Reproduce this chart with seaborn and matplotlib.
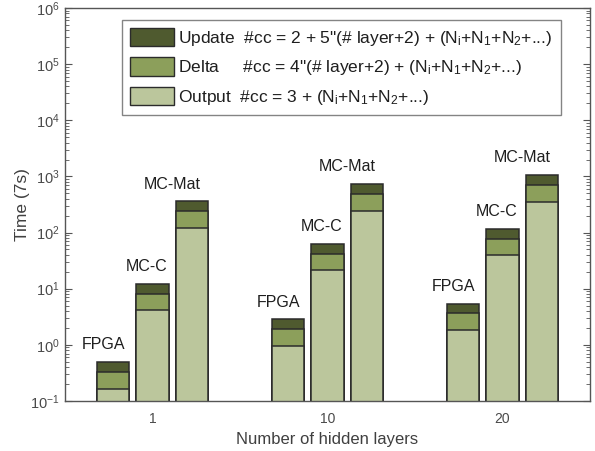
import matplotlib
matplotlib.use("Agg")
import matplotlib.pyplot as plt
from matplotlib.patches import Patch
from matplotlib.ticker import LogLocator, NullFormatter
import numpy as np
import pandas as pd
import seaborn as sns

# Number of hidden layers (x groups) and implementations (bars in each group)
layers = ["1", "10", "20"]
systems = ["FPGA", "MC-C", "MC-Mat"]

# Time per phase, one row per layer group, one column per system
output_t = [[0.166, 4.13, 119.0],
            [0.955, 21.3, 245.0],
            [1.82, 39.4, 351.0]]
delta_t = [[0.167, 4.02, 120.0],
           [0.935, 20.8, 248.0],
           [1.83, 38.4, 353.0]]
update_t = [[0.167, 4.15, 122.0],
            [0.96, 21.3, 250.0],
            [1.76, 39.2, 357.0]]

phase_names = ["Update", "Delta", "Output"]
phase_formulas = [
    r'#cc = 2 + 5"(# layer+2) + (N$_\mathregular{i}$+N$_\mathregular{1}$+N$_\mathregular{2}$+...)',
    r'#cc = 4"(# layer+2) + (N$_\mathregular{i}$+N$_\mathregular{1}$+N$_\mathregular{2}$+...)',
    r'#cc = 3 + (N$_\mathregular{i}$+N$_\mathregular{1}$+N$_\mathregular{2}$+...)',
]
phase_colors = {"Update": "#4f5a2f", "Delta": "#8c9f5b", "Output": "#bbc69c"}

sns.set_theme(style="white")
plt.rcParams["font.family"] = ["Liberation Sans", "DejaVu Sans"]
plt.rcParams["mathtext.default"] = "regular"
plt.rcParams["mathtext.fontset"] = "custom"
plt.rcParams["mathtext.rm"] = "Liberation Sans"

rows = []
for i, lay in enumerate(layers):
    for j, sysname in enumerate(systems):
        o, d, u = output_t[i][j], delta_t[i][j], update_t[i][j]
        rows.append({"layers": lay, "system": sysname,
                     "Output": o, "Delta": o + d, "Update": o + d + u})
df = pd.DataFrame(rows)

fig = plt.figure(figsize=(5.95, 4.51), dpi=100)
ax = fig.add_axes([0.1092, 0.1109, 0.8824, 0.8714])
ax.set_yscale("log")

# Stacked bars: draw cumulative heights from the top segment down
top_containers = None
for phase in ["Update", "Delta", "Output"]:
    sns.barplot(data=df, x="layers", y=phase, hue="system", order=layers,
                hue_order=systems,
                palette=[phase_colors[phase]] * len(systems),
                width=0.68, gap=0.18, edgecolor="#2b2b2b", linewidth=1.1,
                saturation=1, legend=False, ax=ax, errorbar=None)
    if top_containers is None:
        top_containers = list(ax.containers)

# System name above each bar
label_shift = {"FPGA": -9, "MC-C": -6, "MC-Mat": -20}
for sysname, cont in zip(systems, top_containers):
    for bar in cont:
        ax.annotate(sysname, (bar.get_x() + bar.get_width() / 2, bar.get_height()),
                    xytext=(label_shift[sysname] * 0.72, 7), textcoords="offset points",
                    ha="center", va="bottom", fontsize=11.5, color="#1e1e1e")

ax.set_xlim(-0.5, 2.5)
ax.set_ylim(0.1, 1e6)
ax.yaxis.set_major_locator(LogLocator(base=10, numticks=10))
ax.yaxis.set_minor_locator(LogLocator(base=10, subs=np.arange(2, 10), numticks=10))
ax.yaxis.set_minor_formatter(NullFormatter())
ax.tick_params(axis="y", which="major", direction="in", length=5, width=0.8,
               color="#555555", labelsize=10.5, labelcolor="#4a4a4a",
               left=True, right=True, pad=4)
ax.tick_params(axis="y", which="minor", direction="in", length=3, width=0.6,
               color="#555555", left=True, right=True)
ax.tick_params(axis="x", length=0, labelsize=10, labelcolor="#4a4a4a", pad=8)
ax.xaxis.get_offset_text().set_visible(False)
ax.yaxis.get_offset_text().set_visible(False)

for sp in ax.spines.values():
    sp.set_visible(True)
    sp.set_color("#555555")
    sp.set_linewidth(1.0)

ax.set_xlabel("Number of hidden layers", fontsize=12, color="#404040", labelpad=4)
ax.set_ylabel("Time (7s)", fontsize=12.5, color="#404040", labelpad=0)

handles = [Patch(facecolor=phase_colors[p], edgecolor="#2b2b2b", linewidth=1.0)
           for p in phase_names]
pads = ["  ", "     ", "  "]
labels = [f"{p}{pad}{f}" for p, pad, f in zip(phase_names, pads, phase_formulas)]
leg = ax.legend(handles, labels, loc="upper left", bbox_to_anchor=(0.1086, 0.9695),
                borderaxespad=0, fontsize=12.5, frameon=True, fancybox=False,
                handlelength=2.55, handleheight=1.25, handletextpad=0.25,
                labelspacing=0.55, borderpad=0.45, edgecolor="#666666")
leg.get_frame().set_linewidth(1.0)
for t in leg.get_texts():
    t.set_color("#1e1e1e")

fig.savefig("out.png", dpi=100)
